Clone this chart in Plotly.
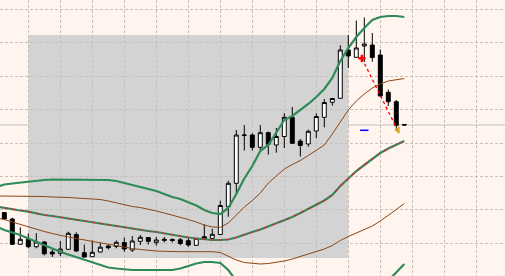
import plotly.graph_objects as go

# ---------------- data (price points) ----------------
bars = list(range(0, 51))          # candle index
band_bars = list(range(-1, 51))    # indicator index (starts one bar earlier, off-screen left)

open_ = [87.5, 81, 55.7, 60.7, 53.3, 58, 48, 46.7, 50.7, 65.5,
         47.3, 43.3, 48, 54, 53.5, 57.5, 50, 58.7, 62.5, 57.3,
         60.7, 60.5, 60.2, 59.3, 54.7, 63.3, 61.7, 65.5, 93.3, 116.7,
         164.5, 165, 152.7, 167.3, 155, 163.5, 182.7, 159, 156, 169,
         182.7, 197.7, 201.7, 250, 242.7, 254, 255, 245, 207.7, 198.3,
         175.5]
high = [88, 82.3, 72.7, 66.5, 67, 59, 52, 59, 68.3, 67.7,
        55.5, 59.5, 57.3, 55, 59.5, 62.5, 64, 65, 63, 63,
        63, 61.7, 62, 61.7, 62, 75.7, 71.2, 99.3, 119.3, 170,
        175, 166.7, 175, 168.5, 172, 186.7, 193, 161, 170.3, 186.7,
        201, 201.7, 254.7, 265, 279.5, 282.5, 267, 250.5, 210.5, 200,
        175.5]
low = [80.5, 55.5, 55.5, 51.7, 51.7, 44.7, 43, 44, 50.5, 48,
       42.5, 43, 47.5, 50.5, 51.7, 48.3, 48, 55, 55.5, 54.3,
       57.5, 57.5, 54.7, 53.3, 54.5, 60.5, 61.5, 65, 83.3, 105.5,
       149.5, 149.5, 150, 145.5, 147.3, 152, 156.5, 143.5, 153.3, 161.7,
       172.7, 194.3, 201.5, 232, 242.5, 238, 238.3, 203.5, 194, 170,
       174.5]
close = [81, 55.7, 60.7, 53.3, 58, 46.2, 46, 51, 66.7, 49,
         43, 47.7, 52.8, 52.3, 57.7, 51, 59, 62.7, 58.7, 60,
         59.7, 59.5, 56.5, 55, 61.7, 61.3, 65.7, 94.5, 116.7, 165,
         165, 152.7, 167.3, 155.7, 163.5, 182.7, 156.7, 154.5, 168.7, 183.5,
         197.5, 201.5, 250, 244, 252, 256, 242.5, 204, 198.3, 174.7,
         175]

upper2 = [113, 115.5, 116.5, 117.5, 118.3, 119.5, 120,
          120.5, 120.5, 120.5, 120.5, 120.5, 120.5, 120.5,
          120, 119, 117, 115, 113, 111, 109, 106, 103, 101,
          97.5, 94.5, 90, 87, 86, 92, 106, 121.5, 134, 149,
          155, 167, 180, 184, 190, 196, 203, 211, 222, 239,
          252, 263, 272, 280, 283, 284, 284, 283]
upper1 = [104, 104, 104, 104, 104, 103.5, 103.5, 103, 103, 102.5,
          102, 101.5, 101, 100.5, 99, 97, 95, 93.5, 92.5, 91,
          89, 87, 85, 83, 80.5, 78, 75, 73, 72.7, 77,
          85, 93, 99.5, 107, 117, 124, 131, 135.5, 139.5, 144.5,
          150, 155, 166, 178, 190, 199, 206, 212, 216, 219,
          220.5, 221.5]
middle = [93.5, 92, 90.5, 89.5, 88.3, 86.5, 85, 84, 82.7, 81.3,
          80, 78.7, 78, 76.5, 75, 73.5, 72.5, 71, 70, 69,
          68, 66.5, 65, 64, 62.5, 61.5, 60.5, 60, 60, 60.5,
          62.5, 65.5, 68, 70.5, 73.5, 76.5, 79.5, 83, 87, 91,
          95, 99.5, 105, 114, 121.5, 129, 135, 141, 147, 151.5,
          155.5, 159]
lower1 = [82, 80.5, 78, 75.5, 73, 70.5, 68.5, 66.5, 64.5, 63,
          61.5, 60, 58.5, 57, 55.5, 54, 52.5, 51.5, 50.5, 49.5,
          49, 48.7, 48.3, 48.3, 48.3, 48.3, 48.3, 48.3, 47.5, 44,
          40, 37.5, 36.5, 36, 36.5, 37.5, 39, 41, 43.5, 46,
          48.5, 51, 54.5, 59.5, 63.5, 67, 70, 74, 79, 84.5,
          90.5, 96.5]
lower2 = [73.5, 70, 67.5, 65, 61.5, 58, 54.5, 51, 48.3, 45.5,
          43, 40.5, 37.5, 35, 32.5, 31.5, 30.5, 30, 30, 30,
          30, 30, 30, 31.5, 34, 36.5, 38, 38, 37, 30,
          19, 9.5, 0, -8, -8, -14, -21, -18, -16, -14,
          -13, -12, -12, -11, -9, -5, -2, 2, 11, 19,
          27, 36]

# trade: open (sell) and close points, plus a pending level marker
trade_bars = [44.7, 49.0]
trade_prices = [241.7, 172.5]
close_mark_bar = [49.2]
close_mark_price = [170]
level_bar = [45]
level_price = [169.7]

# highlighted zone
zone_bars = [3, 43]
zone_prices = [42, 265]

# ---------------- figure ----------------
GREEN = "#2e8b57"
BROWN = "#8b4513"
BG = "#fff5ee"

fig = go.Figure()

fig.add_trace(go.Candlestick(
    x=bars, open=open_, high=high, low=low, close=close,
    increasing=dict(fillcolor="white", line=dict(color="black", width=1)),
    decreasing=dict(fillcolor="black", line=dict(color="black", width=1)),
    whiskerwidth=0, showlegend=False, hoverinfo="skip"))

for ys, col, w in [(upper2, GREEN, 2.2), (lower2, GREEN, 2.2),
                   (upper1, BROWN, 1), (lower1, BROWN, 1),
                   (middle, GREEN, 2.2)]:
    fig.add_trace(go.Scatter(x=band_bars, y=ys, mode="lines",
                             line=dict(color=col, width=w),
                             showlegend=False, hoverinfo="skip"))
fig.add_trace(go.Scatter(x=band_bars, y=middle, mode="lines",
                         line=dict(color="#e8203c", width=1.1, dash="4px,4px"),
                         showlegend=False, hoverinfo="skip"))

fig.add_trace(go.Scatter(x=trade_bars, y=trade_prices, mode="lines",
                         line=dict(color="red", width=1.3, dash="dot"),
                         showlegend=False, hoverinfo="skip"))
fig.add_trace(go.Scatter(x=trade_bars[:1], y=trade_prices[:1], mode="markers",
                         marker=dict(symbol="cross", size=6, color="red"),
                         showlegend=False, hoverinfo="skip"))
fig.add_trace(go.Scatter(x=close_mark_bar, y=close_mark_price, mode="markers",
                         marker=dict(symbol="triangle-left", size=7, color="#daa520"),
                         showlegend=False, hoverinfo="skip"))
fig.add_trace(go.Scatter(x=level_bar, y=level_price, mode="markers",
                         marker=dict(symbol="line-ew", size=6,
                                     line=dict(color="blue", width=1.5)),
                         showlegend=False, hoverinfo="skip"))

fig.add_shape(type="rect", xref="x", yref="y",
              x0=zone_bars[0], x1=zone_bars[1], y0=zone_prices[0], y1=zone_prices[1],
              fillcolor="#d3d3d3", line=dict(width=0), layer="below")
fig.add_shape(type="line", xref="paper", yref="y", x0=0, x1=1,
              y0=close[-1], y1=close[-1],
              line=dict(color="#c0c0c0", width=1), layer="below")

grid = dict(showgrid=True, gridcolor="#c8c0bc", gridwidth=1, griddash="3px,2px",
            showticklabels=False, zeroline=False, showline=False, ticks="")
fig.update_layout(
    width=505, height=276, margin=dict(l=0, r=0, t=0, b=0),
    paper_bgcolor=BG, plot_bgcolor=BG,
    xaxis=dict(range=[-0.5375, 62.5875], tick0=3, dtick=4,
               rangeslider=dict(visible=False), **grid),
    yaxis=dict(range=[24, 300], tick0=56.7, dtick=33.42, **grid),
)

fig.write_html("out.html")
